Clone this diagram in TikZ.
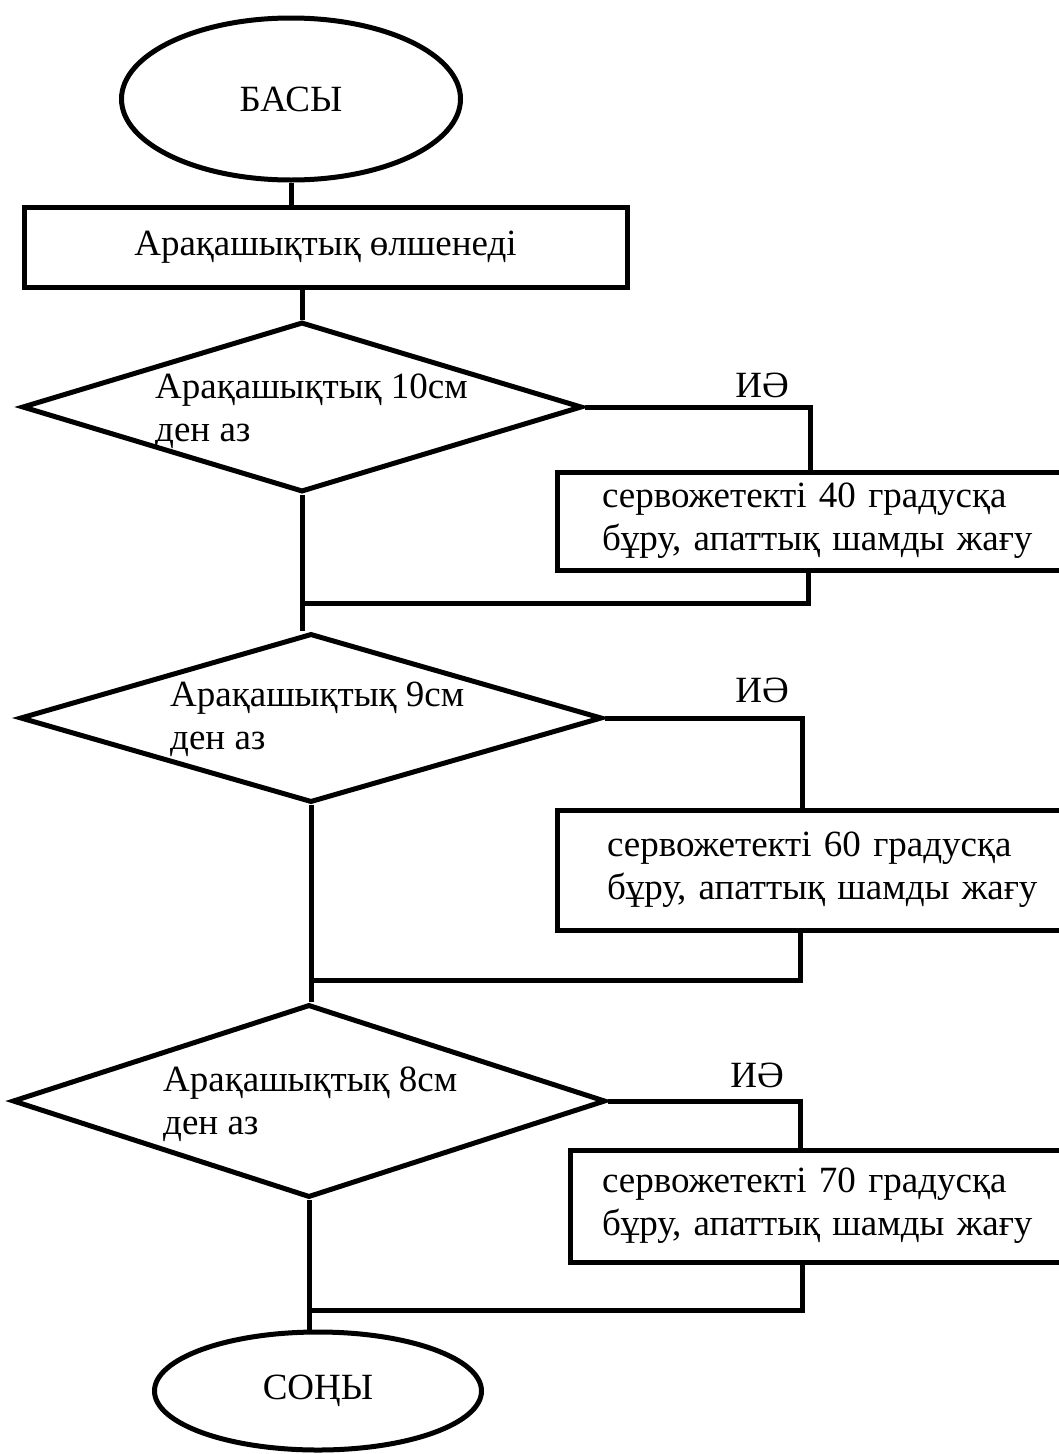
\documentclass[tikz,border=0pt]{standalone}
\usepackage{fontspec}
\setmainfont{Liberation Serif}
\usetikzlibrary{shapes.geometric}
\tikzset{
  every node/.style={font=\fontsize{37}{43}\selectfont},
  ln/.style={line width=5pt, line join=miter},
  term/.style={ellipse, draw, line width=5pt, inner sep=0pt},
  procbox/.style={rectangle, draw, line width=5pt, align=left},
  decis/.style={diamond, draw, line width=5pt, inner sep=0pt},
  dtext/.style={anchor=west, align=left, inner sep=0pt},
  yeslbl/.style={inner sep=0pt}
}
\begin{document}
\begin{tikzpicture}[x=1pt,y=1pt]
\useasboundingbox (0,0) rectangle (1059,-1454);
\clip (0,0) rectangle (1059,-1454);
% start
\node[term, minimum width=339pt, minimum height=162pt] (start) at (291,-99) {БАСЫ};
\node[procbox, minimum width=603pt, minimum height=80pt, align=center] (meas) at (325.5,-247) {Арақашықтық өлшенеді};
% decisions
\node[decis, minimum width=560pt, minimum height=170pt] (d1) at (302,-407) {};
\node[dtext] (t1) at (155,-411) {Арақашықтық 10см\\ден аз};
\node[decis, minimum width=582pt, minimum height=169pt] (d2) at (311,-718) {};
\node[dtext] (t2) at (170,-719) {Арақашықтық 9см\\ден аз};
\node[decis, minimum width=593pt, minimum height=193pt] (d3) at (309,-1101) {};
\node[dtext] (t3) at (163,-1104) {Арақашықтық 8см\\ден аз};
% action boxes
\node[procbox, text width=500pt, inner xsep=45pt, minimum height=98pt] (b1) at (852,-521) {сервожетекті 40 градусқа\\бұру, апаттық шамды жағу};
\node[procbox, text width=500pt, inner xsep=50pt, minimum height=120pt] (b2) at (857,-870) {сервожетекті 60 градусқа\\бұру, апаттық шамды жағу};
\node[procbox, text width=500pt, inner xsep=32pt, minimum height=112pt] (b3) at (852,-1206) {сервожетекті 70 градусқа\\бұру, апаттық шамды жағу};
% end
\node[term, minimum width=327pt, minimum height=118pt] (stop) at (318,-1391) {СОҢЫ};
% yes labels
\node[yeslbl] (y1) at (762,-385) {ИӘ};
\node[yeslbl] (y2) at (762,-690) {ИӘ};
\node[yeslbl] (y3) at (757,-1075) {ИӘ};
% coordinates
\coordinate (c1) at (810,-407);
\coordinate (r1) at (808,-603);
\coordinate (c2) at (802,-718);
\coordinate (r2) at (800,-980);
\coordinate (c3) at (800,-1101);
\coordinate (r3) at (802,-1310);
% connectors
\draw[ln] (start.south) -- (meas.north -| start.south);
\draw[ln] (d1.north) -- (d1.north |- meas.south);
\draw[ln] (d1.east) -- (c1) -- (c1 |- b1.north);
\draw[ln] (r1 |- b1.south) -- (r1) -- (r1 -| d1.south);
\draw[ln] (d1.south) -- (d1.south |- d2.north);
\draw[ln] (d2.east) -- (c2) -- (c2 |- b2.north);
\draw[ln] (r2 |- b2.south) -- (r2) -- (r2 -| d2.south);
\draw[ln] (d2.south) -- (d2.south |- d3.north);
\draw[ln] (d3.east) -- (c3) -- (c3 |- b3.north);
\draw[ln] (r3 |- b3.south) -- (r3) -- (r3 -| d3.south);
\draw[ln] (d3.south) -- (d3.south |- stop.north);
\end{tikzpicture}
\end{document}
